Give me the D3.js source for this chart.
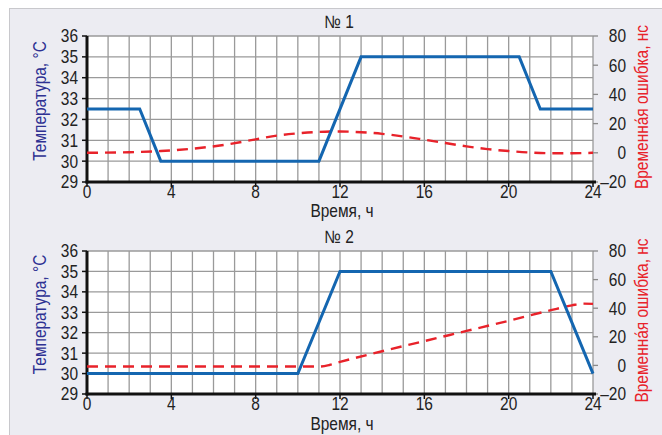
<!DOCTYPE html>
<html><head><meta charset="utf-8">
<script src="https://cdn.jsdelivr.net/npm/d3@7"></script>
<style>
html,body{margin:0;padding:0;background:#fff;}
svg{display:block;}
text{font-family:"Liberation Sans Narrow","Arial Narrow","Liberation Sans",sans-serif;}
</style></head><body>
<svg id="c" width="662" height="435"></svg>
<script>
// ---- data ----
const hourTicks = [0, 4, 8, 12, 16, 20, 24];
const tempTicks = [29, 30, 31, 32, 33, 34, 35, 36];
const errTicks = [-20, 0, 20, 40, 60, 80];
const titles = ["№ 1", "№ 2"];
const xTitle = "Время, ч";
const yLeftTitle = "Температура, °С";
const yRightTitle = "Временна\u0301я ошибка, нс";

const temp1 = [[0,32.5],[2.5,32.5],[3.5,30],[11,30],[13,35],[20.5,35],[21.5,32.5],[24,32.5]];
const err1 = [[0,0],[2,0.4],[3.5,1.2],[5,2.8],[6.3,5],[8,9.2],[9,11.8],[10,13.3],[11,14.3],[12,14.6],[13,14.1],[14,13],[15,11.2],[16,9],[17,6.7],[18,4.4],[19,2.5],[20,1.2],[21,0.2],[22,-0.3],[23,-0.3],[24,0]];
const temp2 = [[0,30],[10,30],[12,35],[22,35],[24,30]];
const err2 = [[0,-0.8],[11,-0.8],[11.5,0.3],[12,2.4],[14,9.9],[16,17],[18,24.1],[20,31.2],[22,38.6],[23,42],[23.5,43.2],[24,43]];

const panels = [
  {title: titles[0], temp: temp1, err: err1, top: 36, bottom: 182, titleY: 28, xTitleY: 217},
  {title: titles[1], temp: temp2, err: err2, top: 251, bottom: 394, titleY: 243, xTitleY: 430}
];

const SX = 0.86; // horizontal condensing to mimic a narrow face
const svg = d3.select("#c");
function txt(g, x, y, s, opts) {
  const o = Object.assign({size:17, fill:"#222", anchor:"middle", rot:0, dy:null}, opts||{});
  const t = g.append("text")
    .attr("transform", `translate(${x},${y}) rotate(${o.rot}) scale(${SX},1)`)
    .attr("text-anchor", o.anchor).attr("font-size", o.size).attr("fill", o.fill).text(s);
  if (o.dy) t.attr("dy", o.dy);
  return t;
}

// background panel
svg.append("rect").attr("x",9.5).attr("y",8.5).attr("width",660).attr("height",430)
  .attr("fill","#ececf2").attr("stroke","#c8c8cc").attr("stroke-width",1);

const L = 87, R = 593;
const x = d3.scaleLinear().domain([0,24]).range([L,R]);

panels.forEach(p => {
  const y = d3.scaleLinear().domain([29,36]).range([p.bottom,p.top]);
  const y2 = d3.scaleLinear().domain([-20,80]).range([p.bottom,p.top]);
  const g = svg.append("g");
  g.append("rect").attr("x",L).attr("y",p.top).attr("width",R-L).attr("height",p.bottom-p.top).attr("fill","#fff");
  // grid
  const hrs = d3.range(1,25);
  g.selectAll(".vg").data(hrs).join("line")
    .attr("x1",d=>x(d)).attr("x2",d=>x(d)).attr("y1",p.top).attr("y2",p.bottom)
    .attr("stroke","#9a9a9a").attr("stroke-width",1.3);
  g.selectAll(".hg").data(tempTicks.slice(1)).join("line")
    .attr("x1",L).attr("x2",R).attr("y1",d=>y(d)).attr("y2",d=>y(d))
    .attr("stroke","#9a9a9a").attr("stroke-width",1.3);
  // right axis ticks + labels
  g.selectAll(".rt").data(errTicks).join("line")
    .attr("x1",R).attr("x2",R+5).attr("y1",d=>y2(d)).attr("y2",d=>y2(d))
    .attr("stroke","#8a8a8a").attr("stroke-width",1.3);
  errTicks.forEach(d => txt(g, 626, y2(d), d<0 ? "\u2013"+Math.abs(d) : String(d), {anchor:"end", dy:"0.36em", size:18}));
  // left axis ticks + labels
  g.selectAll(".lt").data(tempTicks).join("line")
    .attr("x1",L-5).attr("x2",L).attr("y1",d=>y(d)).attr("y2",d=>y(d))
    .attr("stroke","#111").attr("stroke-width",1.5);
  tempTicks.forEach(d => txt(g, 78, y(d), String(d), {anchor:"end", dy:"0.36em", size:18}));
  // bottom ticks + labels
  g.selectAll(".bt").data(hourTicks).join("line")
    .attr("x1",d=>x(d)).attr("x2",d=>x(d)).attr("y1",p.bottom).attr("y2",p.bottom+5)
    .attr("stroke","#111").attr("stroke-width",1.5);
  hourTicks.forEach(d => txt(g, x(d), p.bottom+16, String(d), {size:18}));
  // axis lines
  g.append("line").attr("x1",L).attr("x2",L).attr("y1",p.top).attr("y2",p.bottom+1.5)
    .attr("stroke","#111").attr("stroke-width",3);
  g.append("line").attr("x1",L-1.5).attr("x2",R+3).attr("y1",p.bottom).attr("y2",p.bottom)
    .attr("stroke","#111").attr("stroke-width",3);
  // series
  const line = d3.line().x(d=>x(d[0])).y(d=>y(d[1]));
  const line2 = d3.line().x(d=>x(d[0])).y(d=>y2(d[1])).curve(d3.curveMonotoneX);
  g.append("path").attr("d",line2(p.err)).attr("fill","none")
    .attr("stroke","#e8222a").attr("stroke-width",2.4).attr("stroke-dasharray","11,7");
  g.append("path").attr("d",line(p.temp)).attr("fill","none")
    .attr("stroke","#1466b0").attr("stroke-width",3).attr("stroke-linejoin","miter");
  // titles
  txt(g, 339, p.titleY, p.title, {size:18});
  txt(g, 342, p.xTitleY, xTitle, {size:18});
  const cy = (p.top+p.bottom)/2;
  txt(g, 46, cy-8, yLeftTitle, {rot:-90, size:18, fill:"#2e3192"});
  txt(g, 648, cy-2, yRightTitle, {rot:-90, size:18, fill:"#e8222a"});
});
</script></body></html>
